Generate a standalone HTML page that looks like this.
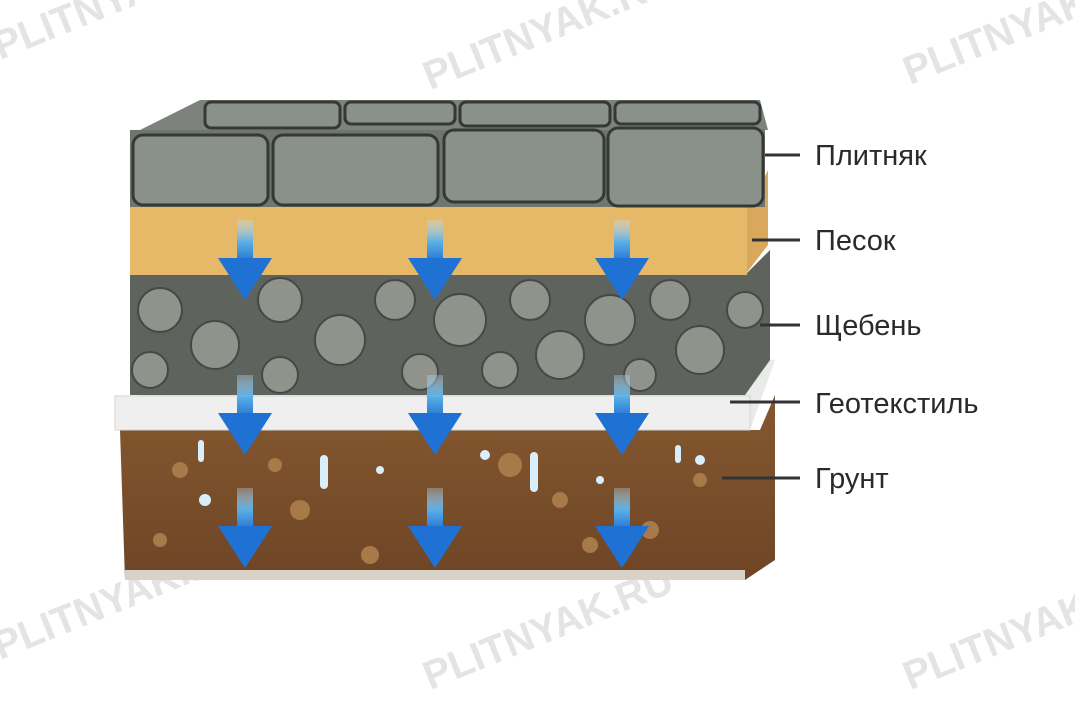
<!DOCTYPE html>
<html><head><meta charset="utf-8"><style>
html,body{margin:0;padding:0;background:#fff;}
body{width:1075px;height:716px;overflow:hidden;position:relative;font-family:"Liberation Sans",sans-serif;}
</style></head><body>
<svg width="1075" height="716" viewBox="0 0 1075 716" xmlns="http://www.w3.org/2000/svg">
<defs>
<linearGradient id="arr" x1="0" y1="0" x2="0" y2="1">
<stop offset="0" stop-color="#bfe3f7" stop-opacity="0.3"/><stop offset="0.5" stop-color="#5aaee6"/><stop offset="1" stop-color="#1e6fd0"/></linearGradient>
<linearGradient id="soil" x1="0" y1="0" x2="0" y2="1"><stop offset="0" stop-color="#85582f"/><stop offset="1" stop-color="#6e4526"/></linearGradient>
<g id="A"><rect x="-8" y="0" width="16" height="44" fill="url(#arr)"/><polygon points="-27,38 27,38 0,80" fill="#1f72d4"/></g>
</defs>
<g fill="#e4e4e4" font-size="40" font-weight="bold" font-family="Liberation Sans,sans-serif">
<text transform="translate(0,60) rotate(-22)">PLITNYAK.RU</text>
<text transform="translate(430,90) rotate(-22)">PLITNYAK.RU</text>
<text transform="translate(910,85) rotate(-22)">PLITNYAK.RU</text>
<text transform="translate(0,660) rotate(-22)">PLITNYAK.RU</text>
<text transform="translate(430,690) rotate(-22)">PLITNYAK.RU</text>
<text transform="translate(910,690) rotate(-22)">PLITNYAK.RU</text>
</g>
<path d="M120 430 L760 430 L775 395 L775 560 L745 580 L125 580 Z" fill="url(#soil)"/>
<rect x="125" y="570" width="620" height="10" fill="#d8d2c8"/>
<g fill="#a87a4a"><circle cx="180" cy="470" r="8"/><circle cx="300" cy="510" r="10"/><circle cx="510" cy="465" r="12"/><circle cx="650" cy="530" r="9"/><circle cx="700" cy="480" r="7"/><circle cx="560" cy="500" r="8"/><circle cx="370" cy="555" r="9"/><circle cx="160" cy="540" r="7"/><circle cx="590" cy="545" r="8"/><circle cx="275" cy="465" r="7"/></g>
<g fill="#d9eefb"><rect x="320" y="455" width="8" height="34" rx="4"/><rect x="530" y="452" width="8" height="40" rx="4"/><circle cx="205" cy="500" r="6"/><circle cx="485" cy="455" r="5"/><circle cx="700" cy="460" r="5"/><circle cx="380" cy="470" r="4"/><circle cx="600" cy="480" r="4"/><rect x="198" y="440" width="6" height="22" rx="3"/><rect x="675" y="445" width="6" height="18" rx="3"/></g>
<path d="M115 430 L750 430 L775 360 L760 358 L140 395 L115 400 Z" fill="#e9eaea"/>
<rect x="115" y="396" width="635" height="34" fill="#efefef" stroke="#d4d4d4"/>
<path d="M130 275 L745 275 L770 250 L770 360 L745 395 L130 395 Z" fill="#5f635d"/>
<g fill="#8f938c" stroke="#454844" stroke-width="2">
<circle cx="160" cy="310" r="22"/><circle cx="215" cy="345" r="24"/><circle cx="280" cy="300" r="22"/><circle cx="340" cy="340" r="25"/><circle cx="395" cy="300" r="20"/><circle cx="460" cy="320" r="26"/><circle cx="530" cy="300" r="20"/><circle cx="560" cy="355" r="24"/><circle cx="610" cy="320" r="25"/><circle cx="670" cy="300" r="20"/><circle cx="700" cy="350" r="24"/><circle cx="745" cy="310" r="18"/><circle cx="150" cy="370" r="18"/><circle cx="280" cy="375" r="18"/><circle cx="420" cy="372" r="18"/><circle cx="500" cy="370" r="18"/><circle cx="640" cy="375" r="16"/></g>
<path d="M130 207 L750 207 L768 170 L768 245 L745 275 L130 275 Z" fill="#d9a85c"/>
<rect x="130" y="207" width="617" height="68" fill="#e6b968"/>
<path d="M200 100 L760 100 L768 130 L130 135 Z" fill="#7d837c"/>
<rect x="130" y="130" width="635" height="77" fill="#6f766f"/>
<g fill="#8a918a" stroke="#353835" stroke-width="3">
<rect x="133" y="135" width="135" height="70" rx="10"/><rect x="273" y="135" width="165" height="70" rx="10"/><rect x="444" y="130" width="160" height="72" rx="10"/><rect x="608" y="128" width="155" height="78" rx="10"/>
<rect x="205" y="102" width="135" height="26" rx="6"/><rect x="345" y="102" width="110" height="22" rx="6"/><rect x="460" y="102" width="150" height="24" rx="6"/><rect x="615" y="102" width="145" height="22" rx="6"/></g>
<use href="#A" x="245" y="220"/><use href="#A" x="435" y="220"/><use href="#A" x="622" y="220"/>
<use href="#A" x="245" y="375"/><use href="#A" x="435" y="375"/><use href="#A" x="622" y="375"/>
<use href="#A" x="245" y="488"/><use href="#A" x="435" y="488"/><use href="#A" x="622" y="488"/>
<g stroke="#333" stroke-width="3"><line x1="765" y1="155" x2="800" y2="155"/><line x1="752" y1="240" x2="800" y2="240"/><line x1="760" y1="325" x2="800" y2="325"/><line x1="730" y1="402" x2="800" y2="402"/><line x1="722" y1="478" x2="800" y2="478"/></g>
<g fill="#2a2a2a" font-size="29" font-family="Liberation Sans,sans-serif">
<text x="815" y="165">Плитняк</text><text x="815" y="250">Песок</text><text x="815" y="335">Щебень</text><text x="815" y="413">Геотекстиль</text><text x="815" y="488">Грунт</text></g>
</svg>
</body></html>
